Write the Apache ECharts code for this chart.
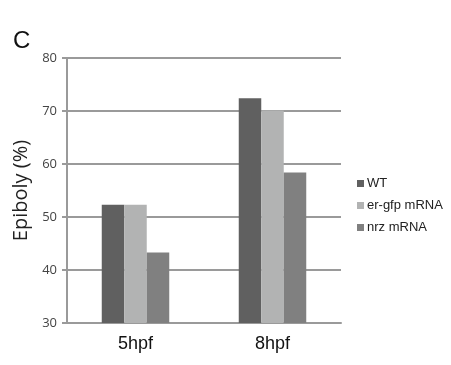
<!DOCTYPE html>
<html><head><meta charset="utf-8">
<script src="https://cdn.jsdelivr.net/npm/echarts@6/dist/echarts.min.js"></script>
<style>html,body{margin:0;padding:0;background:#fff}#c{width:451px;height:365px}</style>
</head><body><div id="c"></div>
<script>
const categories = ['5hpf', '8hpf'];
const wtValues = [52.3, 72.4];
const erGfpValues = [52.3, 70.1];
const nrzValues = [43.3, 58.4];
const seriesNames = ['WT', 'er-gfp mRNA', 'nrz mRNA'];
const yTicks = [30, 40, 50, 60, 70, 80];

const chart = echarts.init(document.getElementById('c'), null, {renderer: 'canvas'});
const gridColor = '#9a9a9a';
chart.setOption({
  animation: false,
  backgroundColor: '#fff',
  graphic: [{type: 'text', left: 13, top: 29, style: {text: 'C', font: '24px "Liberation Sans", Arial', fill: '#111'}}],
  legend: {
    orient: 'vertical', left: 352, top: 172, itemGap: 9,
    itemWidth: 7, itemHeight: 7, icon: 'rect',
    textStyle: {fontFamily: '"Liberation Sans", Arial', fontSize: 13, color: '#222', padding: [0, 0, 0, -2]},
    data: seriesNames
  },
  grid: {left: 67, right: 110, top: 58, bottom: 42, containLabel: false},
  xAxis: {
    type: 'category', data: categories,
    axisLine: {lineStyle: {color: gridColor, width: 2}},
    axisTick: {show: false},
    axisLabel: {fontFamily: '"Liberation Sans", Arial', fontSize: 18, color: '#111', margin: 12}
  },
  yAxis: {
    type: 'value', min: 30, max: 80, interval: 10,
    name: 'Epiboly (%)', nameLocation: 'middle', nameGap: 33, nameRotate: 90,
    nameTextStyle: {fontFamily: '"Open Sans", "DejaVu Sans", sans-serif', fontSize: 20, color: '#222'},
    axisLine: {show: true, lineStyle: {color: gridColor, width: 2}},
    axisTick: {show: true, length: 5, lineStyle: {color: gridColor, width: 2}},
    axisLabel: {fontFamily: '"Open Sans", "DejaVu Sans", sans-serif', fontSize: 13, color: '#444', margin: 10},
    splitLine: {lineStyle: {color: gridColor, width: 2}}
  },
  series: [
    {name: seriesNames[0], type: 'bar', data: wtValues, barWidth: 22.5, barGap: '0%', itemStyle: {color: '#606060'}},
    {name: seriesNames[1], type: 'bar', data: erGfpValues, barWidth: 22.5, barGap: '0%', itemStyle: {color: '#b2b3b3'}},
    {name: seriesNames[2], type: 'bar', data: nrzValues, barWidth: 22.5, barGap: '0%', itemStyle: {color: '#808080'}}
  ]
});
</script></body></html>
